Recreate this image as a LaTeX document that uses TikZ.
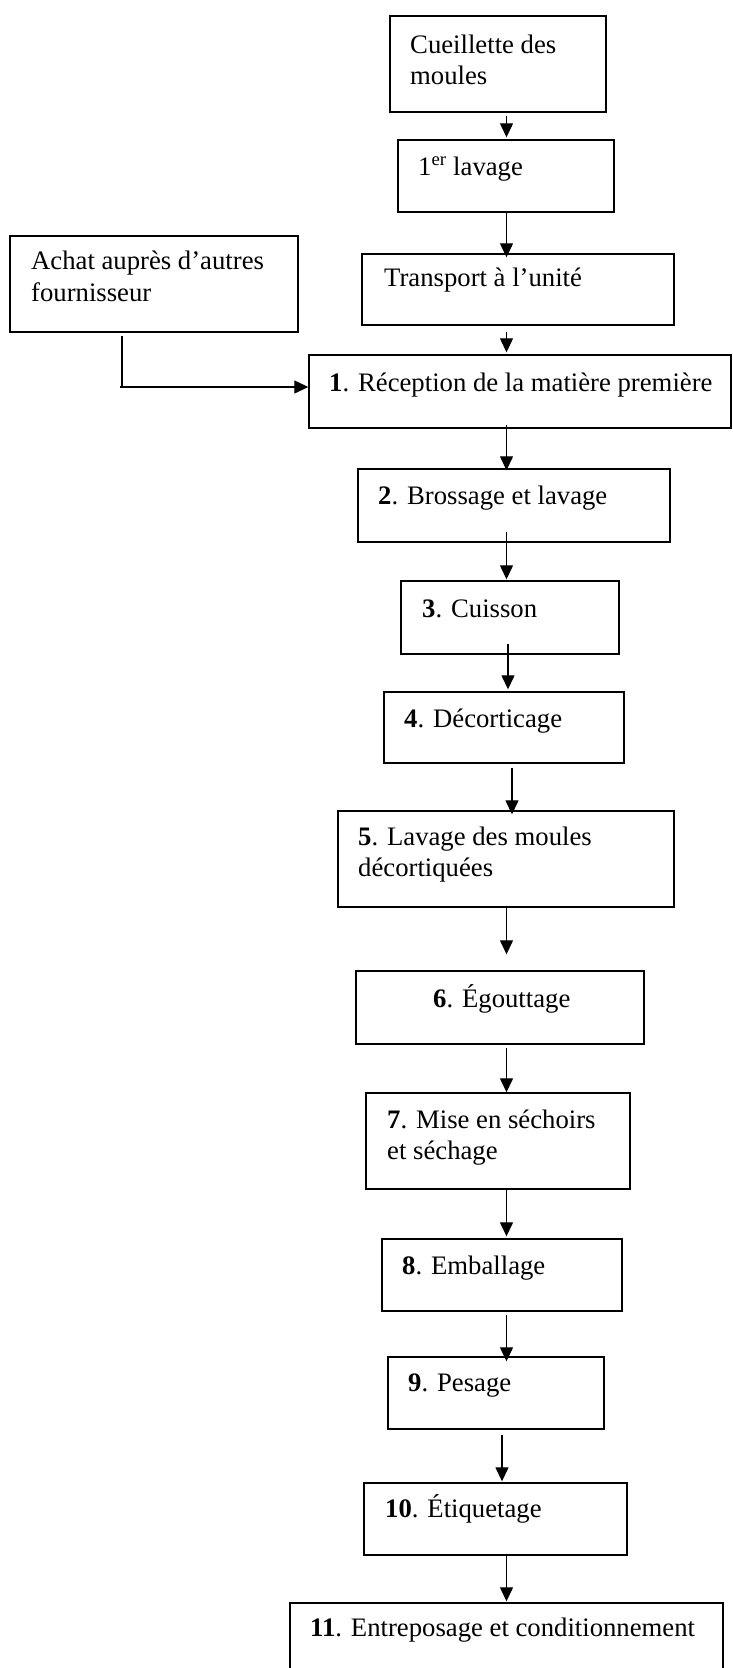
\documentclass[tikz,border=0pt]{standalone}
\usepackage{fontspec}
\setmainfont{Liberation Serif}
\usetikzlibrary{arrows.meta,calc}
\begin{document}
\begin{tikzpicture}[x=1pt,y=-1pt,
 box/.style={draw,line width=1.4pt,inner sep=0pt,rectangle},
 lbl/.style={anchor=base west,inner sep=0pt,font=\fontsize{26.7}{30.5}\selectfont},
 arr/.style={line width=1.3pt,-{Triangle[length=14pt,width=13pt]}}]
\useasboundingbox (0,0) rectangle (732,1668);
% boxes
\node[box,minimum width=216pt,minimum height=96pt] (cue) at (498,64) {};
\node[box,minimum width=216pt,minimum height=72pt] (lav1) at (506,176) {};
\node[box,minimum width=312pt,minimum height=71pt] (trans) at (518,289.5) {};
\node[box,minimum width=288pt,minimum height=96pt] (achat) at (154,284) {};
\node[box,minimum width=422pt,minimum height=73pt] (rec) at (520,391.5) {};
\node[box,minimum width=312pt,minimum height=73pt] (bro) at (514,505.5) {};
\node[box,minimum width=218pt,minimum height=73pt] (cui) at (510,617.5) {};
\node[box,minimum width=240pt,minimum height=71pt] (dec) at (504,727.5) {};
\node[box,minimum width=336pt,minimum height=96pt] (lavd) at (506,859) {};
\node[box,minimum width=288pt,minimum height=73pt] (ego) at (500,1007.5) {};
\node[box,minimum width=264pt,minimum height=96pt] (mise) at (498,1141) {};
\node[box,minimum width=240pt,minimum height=72pt] (emb) at (502,1275) {};
\node[box,minimum width=216pt,minimum height=72pt] (pes) at (496,1393) {};
\node[box,minimum width=263pt,minimum height=72pt] (eti) at (495.5,1519) {};
\node[box,minimum width=433pt,minimum height=97pt] (ent) at (506.5,1651.5) {};
% labels
\node[lbl] (t1a) at (410,53) {Cueillette des};
\node[lbl] (t1b) at (410,84) {moules};
\node[lbl] (t2) at (418,175) {1\textsuperscript{er} lavage};
\node[lbl] (t3) at (384,286) {Transport à l’unité};
\node[lbl] (t4a) at (31,269) {Achat auprès d’autres};
\node[lbl] (t4b) at (31,301) {fournisseur};
\node[lbl] (t5) at (329,391) {\textbf{1}. Réception de la matière première};
\node[lbl] (t6) at (378,504) {\textbf{2}. Brossage et lavage};
\node[lbl] (t7) at (422,617) {\textbf{3}. Cuisson};
\node[lbl] (t8) at (404,727) {\textbf{4}. Décorticage};
\node[lbl] (t9a) at (358,845) {\textbf{5}. Lavage des moules};
\node[lbl] (t9b) at (358,876) {décortiquées};
\node[lbl] (t10) at (433,1007) {\textbf{6}. Égouttage};
\node[lbl] (t11a) at (387,1128) {\textbf{7}. Mise en séchoirs};
\node[lbl] (t11b) at (387,1159) {et séchage};
\node[lbl] (t12) at (402,1274) {\textbf{8}. Emballage};
\node[lbl] (t13) at (408,1391) {\textbf{9}. Pesage};
\node[lbl] (t14) at (385,1517) {\textbf{10}. Étiquetage};
\node[lbl] (t15) at (310,1636) {\textbf{11}. Entreposage et conditionnement};
% connectors
\coordinate (cA) at (506.5,0);
\coordinate (cB) at (508,0);
\coordinate (cC) at (512,0);
\coordinate (cD) at (502,0);
\coordinate (cE) at (122,0);
\draw[arr] ($(cue.south -| cA)+(0,3)$) -- ($(lav1.north -| cA)+(0,-2)$);
\draw[arr] (lav1.south -| cA) -- ($(trans.north -| cA)+(0,4)$);
\draw[arr] ($(trans.south -| cA)+(0,6)$) -- ($(rec.north -| cA)+(0,-2)$);
\draw[arr] ($(rec.south -| cA)+(0,-4)$) -- ($(bro.north -| cA)+(0,2)$);
\draw[arr] ($(bro.south -| cA)+(0,-11)$) -- ($(cui.north -| cA)+(0,-1)$);
\draw[arr] ($(cui.south -| cB)+(0,-11)$) -- ($(dec.north -| cB)+(0,-2)$);
\draw[arr] ($(dec.south -| cC)+(0,4)$) -- ($(lavd.north -| cC)+(0,4)$);
\draw[arr] (lavd.south -| cA) -- ($(ego.north -| cA)+(0,-16)$);
\draw[arr] ($(ego.south -| cA)+(0,3)$) -- (mise.north -| cA);
\draw[arr] (mise.south -| cA) -- ($(emb.north -| cA)+(0,-2)$);
\draw[arr] ($(emb.south -| cA)+(0,3)$) -- ($(pes.north -| cA)+(0,5)$);
\draw[arr] ($(pes.south -| cD)+(0,5)$) -- ($(eti.north -| cD)+(0,-1)$);
\draw[arr] (eti.south -| cA) -- ($(ent.north -| cA)+(0,-1)$);
\coordinate (ac) at (122,387);
\draw[line width=1.3pt] ($(achat.south -| cE)+(0,3)$) -- (ac);
\draw[arr] ($(ac)+(-2,0)$) -- (rec.west |- ac);
\end{tikzpicture}
\end{document}
